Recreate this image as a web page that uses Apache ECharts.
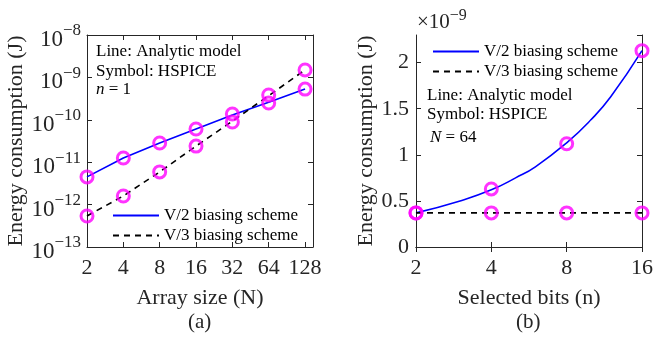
<!DOCTYPE html>
<html>
<head>
<meta charset="utf-8">
<script src="https://cdn.jsdelivr.net/npm/echarts@6/dist/echarts.min.js"></script>
<style>
  html, body { margin: 0; padding: 0; background: #fff; }
  #chart { width: 656px; height: 339px; }
</style>
</head>
<body>
<div id="chart"></div>
<script>
// (a) energy vs array size, n = 1
const sizeN = [2, 4, 8, 16, 32, 64, 128];
const halfModelA = [4.5e-12, 1.26e-11, 2.84e-11, 6.1e-11, 1.3e-10, 2.6e-10, 5.3e-10];
const thirdModelA = [5.4e-13, 1.6e-12, 5.9e-12, 2.4e-11, 9.3e-11, 3.7e-10, 1.5e-9];
const halfSpiceA = [4.5e-12, 1.26e-11, 2.84e-11, 6.07e-11, 1.37e-10, 2.49e-10, 5.3e-10];
const thirdSpiceA = [5.4e-13, 1.6e-12, 5.9e-12, 2.4e-11, 8.9e-11, 3.85e-10, 1.5e-9];

// (b) energy vs selected bits, N = 64 (units of 1e-9 J)
const bitsModel = [2, 3, 4, 5, 6, 8, 10, 12, 16];
const halfModelB = [0.37, 0.50, 0.62, 0.75, 0.87, 1.13, 1.38, 1.63, 2.13];
const thirdModelB = [0.37, 0.37, 0.37, 0.37, 0.37, 0.37, 0.37, 0.37, 0.37];
const bitsN = [2, 4, 8, 16];
const halfSpiceB = [0.37, 0.63, 1.12, 2.13];
const thirdSpiceB = [0.37, 0.37, 0.37, 0.37];

const legendNames = ['V/2 biasing scheme', 'V/3 biasing scheme'];

const serif = 'Liberation Serif';
const axisColor = '#262626';
const blue = '#0000ff';
const magenta = '#ff00ff';

const pairs = (xs, ys) => xs.map((x, i) => [x, ys[i]]);

const tickStyle = { show: true, inside: true, length: 5, lineStyle: { color: axisColor } };
const lineStyleAxis = { show: true, lineStyle: { color: axisColor, width: 1 } };

function xLog(grid, min, max, pos, showLabel, name) {
  return {
    type: 'log', logBase: 2, gridIndex: grid, position: pos, min: min, max: max, interval: 1,
    axisLine: lineStyleAxis, axisTick: tickStyle, splitLine: { show: false },
    axisLabel: {
      show: showLabel, margin: 10, showMaxLabel: max === 16,
      fontFamily: serif, fontSize: 22, color: axisColor,
      formatter: v => String(Math.round(v))
    },
    name: name || '', nameLocation: 'middle', nameGap: 40,
    nameTextStyle: { fontFamily: serif, fontSize: 22, color: axisColor }
  };
}

const supLabel = {
  b: { fontFamily: serif, fontSize: 23, color: axisColor, padding: [10, 0, 0, 0] },
  s: { fontFamily: serif, fontSize: 17, color: axisColor, padding: [0, 0, 8, 0] }
};

function yLogA(pos, showLabel) {
  return {
    type: 'log', logBase: 10, gridIndex: 0, position: pos, min: 1e-13, max: 1e-8, interval: 1,
    axisLine: lineStyleAxis, axisTick: tickStyle, splitLine: { show: false },
    axisLabel: {
      show: showLabel, margin: 6, fontFamily: serif,
      formatter: v => '{b|10}{s|\u2212' + Math.abs(Math.round(Math.log10(v))) + '}',
      rich: supLabel
    },
    name: showLabel ? 'Energy consumption (J)' : '', nameLocation: 'middle', nameGap: 55,
    nameTextStyle: { fontFamily: serif, fontSize: 22, color: axisColor }
  };
}

function yLinB(pos, showLabel) {
  return {
    type: 'value', gridIndex: 1, position: pos, min: 0, max: 2.3, interval: 0.5,
    axisLine: lineStyleAxis, axisTick: tickStyle, splitLine: { show: false },
    axisLabel: {
      show: showLabel, margin: 7, showMaxLabel: false,
      fontFamily: serif, fontSize: 22, color: axisColor
    },
    name: showLabel ? 'Energy consumption (J)' : '', nameLocation: 'middle', nameGap: 38,
    nameTextStyle: { fontFamily: serif, fontSize: 22, color: axisColor }
  };
}

function modelLine(name, xi, yi, data, dashed) {
  return {
    name: name, type: 'line', xAxisIndex: xi, yAxisIndex: yi, data: data,
    symbol: 'none', smooth: !dashed && xi === 2, z: 2,
    lineStyle: dashed
      ? { color: '#000', width: 1.6, type: [6, 5] }
      : { color: blue, width: 1.6 },
    itemStyle: { color: dashed ? '#000' : blue }
  };
}

function spiceDots(xi, yi, data) {
  return {
    type: 'scatter', xAxisIndex: xi, yAxisIndex: yi, data: data,
    symbol: 'circle', symbolSize: 12, z: 3,
    itemStyle: { color: 'rgba(0,0,0,0)', borderColor: magenta, borderWidth: 3 }
  };
}

const legendText = { fontFamily: serif, fontSize: 17, color: '#000' };
const legendBase = {
  data: legendNames, orient: 'vertical', itemWidth: 46, itemHeight: 14, itemGap: 3,
  textStyle: legendText, selectedMode: false,
  itemStyle: { opacity: 0, borderWidth: 0, color: 'rgba(0,0,0,0)' }
};

function note(x, y, text, rich) {
  return {
    type: 'text', left: x, top: y,
    style: { text: text, fontFamily: serif, fontSize: 17, fill: '#000', rich: rich }
  };
}
const italicRich = {
  i: { fontFamily: serif, fontSize: 17, fontStyle: 'italic', fill: '#000' },
  r: { fontFamily: serif, fontSize: 17, fill: '#000' }
};

const chart = echarts.init(document.getElementById('chart'));
chart.setOption({
  animation: false,
  backgroundColor: '#fff',
  grid: [
    { left: 87, top: 35, width: 226, height: 212 },
    { left: 416, top: 35, width: 227, height: 212 }
  ],
  xAxis: [
    xLog(0, 2, 149, 'bottom', true, 'Array size (N)'),
    xLog(0, 2, 149, 'top', false),
    xLog(1, 2, 16, 'bottom', true, 'Selected bits (n)'),
    xLog(1, 2, 16, 'top', false)
  ],
  yAxis: [yLogA('left', true), yLogA('right', false), yLinB('left', true), yLinB('right', false)],
  legend: [
    Object.assign({ left: 107, top: 202 }, legendBase),
    Object.assign({ left: 427, top: 38 }, legendBase)
  ],
  graphic: [
    note(96, 43, 'Line: Analytic model'),
    note(96, 63, 'Symbol: HSPICE'),
    note(96, 81, '{i|n} {r|= 1}', italicRich),
    note(427, 87, 'Line: Analytic model'),
    note(427, 106, 'Symbol: HSPICE'),
    note(430, 129, '{i|N} {r|= 64}', italicRich),
    {
      type: 'text', left: 417, top: 8,
      style: {
        text: '{b|\u00d710}{s|\u22129}', fill: axisColor,
        rich: {
          b: { fontFamily: serif, fontSize: 21, fill: axisColor },
          s: { fontFamily: serif, fontSize: 16, fill: axisColor, padding: [0, 0, 12, 0] }
        }
      }
    },
    {
      type: 'text', left: 188, top: 312,
      style: { text: '(a)', fontFamily: serif, fontSize: 21, fill: axisColor }
    },
    {
      type: 'text', left: 516, top: 312,
      style: { text: '(b)', fontFamily: serif, fontSize: 21, fill: axisColor }
    }
  ],
  series: [
    modelLine(legendNames[0], 0, 0, pairs(sizeN, halfModelA), false),
    modelLine(legendNames[1], 0, 0, pairs(sizeN, thirdModelA), true),
    spiceDots(0, 0, pairs(sizeN, halfSpiceA)),
    spiceDots(0, 0, pairs(sizeN, thirdSpiceA)),
    modelLine(legendNames[0], 2, 2, pairs(bitsModel, halfModelB), false),
    modelLine(legendNames[1], 2, 2, pairs(bitsModel, thirdModelB), true),
    spiceDots(2, 2, pairs(bitsN, halfSpiceB)),
    spiceDots(2, 2, pairs(bitsN, thirdSpiceB))
  ]
});
</script>
</body>
</html>
